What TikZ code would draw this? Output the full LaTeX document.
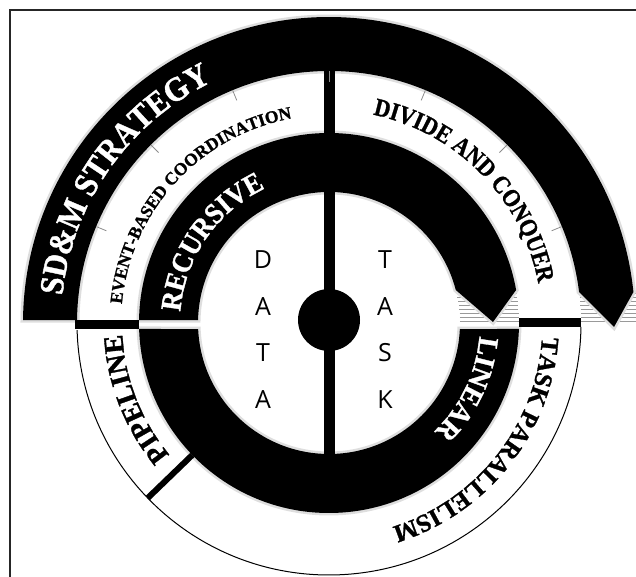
\documentclass[tikz,border=0pt]{standalone}
\usepackage{fontspec}
\setmainfont{Liberation Serif}
\newfontfamily\serN{Liberation Serif}[BoldFeatures={FakeBold=1.2}]
\newfontfamily\sansD{Open Sans}
\newcommand\fSDM{\serN\bfseries\fontsize{34}{34}\selectfont}
\newcommand\fEVT{\serN\bfseries\fontsize{17.5}{18}\selectfont}
\newcommand\fREC{\serN\bfseries\fontsize{29}{29}\selectfont}
\newcommand\fDIV{\serN\bfseries\fontsize{25}{25}\selectfont}
\newcommand\fPIP{\serN\bfseries\fontsize{28}{28}\selectfont}
\newcommand\fTPA{\serN\bfseries\fontsize{25}{25}\selectfont}
\newcommand\fLIN{\serN\bfseries\fontsize{28.5}{29}\selectfont}
\newcount\ctnum
% #1 font, #2 colour, #3 baseline radius, #4 centre angle, #5 font size, #6 horizontal scale, #7 list char/width(em)
\newcommand\curvetext[7]{%
  \xdef\cttot{0}%
  \foreach \cchar/\cwid in {#7} {\pgfmathsetmacro\ctsum{\cttot+\cwid}\xdef\cttot{\ctsum}}%
  \xdef\ctacc{0}%
  \foreach \cchar/\cwid in {#7} {%
    \pgfmathsetmacro\ang{#4 + (\cttot/2 - \ctacc - \cwid/2)*#5*#6/(#3)*57.29578}%
    \global\advance\ctnum by 1
    \node[text=#2, inner sep=0pt, outer sep=0pt, anchor=base, rotate=\ang-90, font=#1]
      (ch\the\ctnum) at (\ang:#3pt) {\scalebox{#6}[1]{\cchar}};%
    \pgfmathsetmacro\ctsum{\ctacc+\cwid}\xdef\ctacc{\ctsum}%
  }}
\tikzset{
  blk/.style={fill=black, preaction={draw=black!13, line width=5pt}},
  hatchline/.style={draw=black!40, line width=0.9pt},
  tickline/.style={draw=black!45, line width=0.8pt},
  letter/.style={font=\sansD\fontsize{25}{25}\selectfont, inner sep=0pt, anchor=center},
}
\begin{document}
\begin{tikzpicture}[x=1pt,y=1pt]
\useasboundingbox (-329,-254) rectangle (307,323);
% frame
\draw[line width=2pt, black!85] (-319,-260) -- (-319,313) -- (310,313);
% hatching near the arrow tips
\foreach \y in {2,6,...,30} {
  \draw[hatchline] ({100*sqrt(1.31*1.31-(\y/100)^2)},\y) -- ({100*sqrt(1.90*1.90-(\y/100)^2)},\y);
  \draw[hatchline] ({100*sqrt(2.52*2.52-(\y/100)^2)},\y) -- (310,\y);
}
% lower white ring outline
\draw[line width=1pt] (181.6:252pt) arc[start angle=181.6, end angle=359.1, radius=252pt];
% outer black ring (upper)
\path[blk] (179.44:306pt) arc[start angle=179.44, end angle=5.81, radius=306pt]
  -- (285,-4) -- (7.07:252pt) arc[start angle=7.07, end angle=179.32, radius=252pt] -- cycle;
% inner black ring (upper)
\path[blk] (179.1:190pt) arc[start angle=179.1, end angle=10.0, radius=190pt]
  -- (164,1) -- (14.59:131pt) arc[start angle=14.59, end angle=178.69, radius=131pt] -- cycle;
% inner black ring (lower)
\path[blk] (181.81:190pt) arc[start angle=181.81, end angle=358.19, radius=190pt]
  -- (357.37:131pt) arc[start angle=357.37, end angle=182.63, radius=131pt] -- cycle;
% dividers
\fill[black] (-254,-6) rectangle (-190,3);
\fill[black] (190,-4) rectangle (252,5);
\draw[line width=6pt] (224:190pt) -- (224:252pt);
% vertical axis and hub
\draw[line width=11pt] (0,-131) -- (0,252);
\fill[black] (0,3) circle[radius=31pt];
% ticks
\foreach \a in {22.5,45,67.5,90,112.5,135,157.5}
  \draw[tickline] (\a:241pt) -- (\a:252pt);
% curved labels
\curvetext{\fSDM}{white}{268}{145}{34}{0.91}{S/.556,D/.722,\&/.833,M/.944,~/.25,S/.556,T/.667,R/.722,A/.722,T/.667,E/.667,G/.778,Y/.722}
\curvetext{\fEVT}{black}{208}{137.5}{17.5}{1.0}{E/.667,V/.722,E/.667,N/.722,T/.667,-/.333,B/.667,A/.722,S/.556,E/.667,D/.722,~/.25,C/.722,O/.778,O/.778,R/.722,D/.722,I/.389,N/.722,A/.722,T/.667,I/.389,O/.778,N/.722}
\curvetext{\fREC}{white}{149}{145.5}{29}{0.92}{R/.722,E/.667,C/.722,U/.722,R/.722,S/.556,I/.389,V/.722,E/.667}
\curvetext{\fDIV}{black}{213}{44.4}{25}{0.88}{D/.722,I/.389,V/.722,I/.389,D/.722,E/.667,~/.25,A/.722,N/.722,D/.722,~/.25,C/.722,O/.778,N/.722,Q/.778,U/.722,E/.667,R/.722}
\curvetext{\fPIP}{black}{207}{201.4}{28}{1.0}{P/.611,I/.389,P/.611,E/.667,L/.667,I/.389,N/.722,E/.667}
\curvetext{\fTPA}{black}{213.5}{-38.3}{25}{1.0}{T/.667,A/.722,S/.556,K/.778,~/.25,P/.611,A/.722,R/.722,A/.722,L/.667,L/.667,E/.667,L/.667,I/.389,S/.556,M/.944}
\curvetext{\fLIN}{white}{151}{-25.4}{28.5}{0.97}{L/.667,I/.389,N/.722,E/.667,A/.722,R/.722}
% DATA / TASK
\node[letter] (d1) at (-66,63) {D};
\node[letter] (d2) at (-66,16) {A};
\node[letter] (d3) at (-66,-30) {T};
\node[letter] (d4) at (-66,-77) {A};
\node[letter] (t1) at (56,63) {T};
\node[letter] (t2) at (56,16) {A};
\node[letter] (t3) at (56,-30) {S};
\node[letter] (t4) at (56,-77) {K};
\end{tikzpicture}
\end{document}
